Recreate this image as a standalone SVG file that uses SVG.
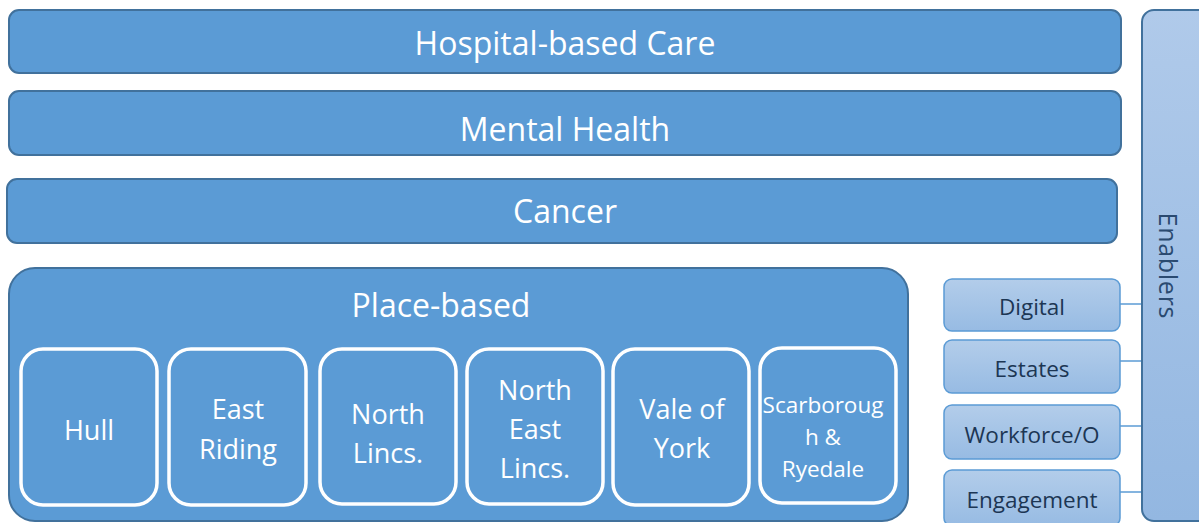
<svg xmlns="http://www.w3.org/2000/svg" width="1199" height="523" viewBox="0 0 1199 523">
  <defs>
    <linearGradient id="gSmall" x1="0" y1="0" x2="0" y2="1">
      <stop offset="0" stop-color="#b3cdea"/>
      <stop offset="1" stop-color="#97bbe3"/>
    </linearGradient>
    <linearGradient id="gEnab" x1="0" y1="0" x2="0" y2="1">
      <stop offset="0" stop-color="#b0caea"/>
      <stop offset="1" stop-color="#93b7e1"/>
    </linearGradient>
  </defs>
  <style>
    .bar { fill: #5b9bd5; stroke: #41719c; stroke-width: 2; }
    .inner { fill: #5b9bd5; stroke: #ffffff; stroke-width: 3.5; }
    .small { fill: url(#gSmall); stroke: #5b9bd5; stroke-width: 1.5; }
    .enab { fill: url(#gEnab); stroke: #41719c; stroke-width: 2; }
    .conn { stroke: #5b9bd5; stroke-width: 1.5; fill: none; }
    text { font-family: "Open Sans", "Liberation Sans", sans-serif; text-anchor: middle; }
    .big { fill: #ffffff; font-size: 32px; }
    .mid { fill: #ffffff; font-size: 27px; }
    .sm { fill: #ffffff; font-size: 22.5px; }
    .dark { fill: #1c3654; font-size: 22.5px; }
    .vert { fill: #2a4a70; font-size: 25px; }
  </style>

  <g id="connectors">
    <line class="conn" x1="1120" y1="304" x2="1142" y2="304"/>
    <line class="conn" x1="1120" y1="361" x2="1142" y2="361"/>
    <line class="conn" x1="1120" y1="426" x2="1142" y2="426"/>
    <line class="conn" x1="1120" y1="492" x2="1142" y2="492"/>
  </g>

  <g id="enablers">
    <rect class="enab" x="1142" y="10" width="80" height="511" rx="12"/>
    <text class="vert" transform="translate(1159,265.5) rotate(90)" textLength="106">Enablers</text>
  </g>

  <g id="hospital">
    <rect class="bar" x="9" y="10" width="1112" height="63" rx="10"/>
    <text class="big" x="565" y="55">Hospital-based Care</text>
  </g>
  <g id="mental-health">
    <rect class="bar" x="9" y="91" width="1112" height="64" rx="10"/>
    <text class="big" x="565" y="141">Mental Health</text>
  </g>
  <g id="cancer">
    <rect class="bar" x="7" y="179" width="1110" height="64" rx="10"/>
    <text class="big" x="565" y="223">Cancer</text>
  </g>

  <g id="place-based">
    <rect class="bar" x="9" y="268" width="899" height="253" rx="26"/>
    <text class="big" x="441" y="317">Place-based</text>
  </g>

  <g id="hull">
    <rect class="inner" x="21" y="349" width="136" height="156" rx="22"/>
    <text class="mid" x="89" y="440">Hull</text>
  </g>
  <g id="east-riding">
    <rect class="inner" x="169" y="349" width="137" height="156" rx="22"/>
    <text class="mid" x="238" y="419">East</text>
    <text class="mid" x="238" y="459">Riding</text>
  </g>
  <g id="north-lincs">
    <rect class="inner" x="320" y="349" width="136" height="155" rx="22"/>
    <text class="mid" x="388" y="424">North</text>
    <text class="mid" x="388" y="463">Lincs.</text>
  </g>
  <g id="north-east-lincs">
    <rect class="inner" x="467" y="349" width="136" height="155" rx="22"/>
    <text class="mid" x="535" y="400">North</text>
    <text class="mid" x="535" y="439">East</text>
    <text class="mid" x="535" y="478">Lincs.</text>
  </g>
  <g id="vale-of-york">
    <rect class="inner" x="613" y="349" width="136" height="156" rx="22"/>
    <text class="mid" x="682" y="419">Vale of</text>
    <text class="mid" x="682" y="458">York</text>
  </g>
  <g id="scarborough">
    <rect class="inner" x="760" y="348" width="136" height="155" rx="22"/>
    <text class="sm" x="823" y="413">Scarboroug</text>
    <text class="sm" x="823" y="445">h &amp;</text>
    <text class="sm" x="823" y="477">Ryedale</text>
  </g>

  <g id="digital">
    <rect class="small" x="944" y="279" width="176" height="52" rx="8"/>
    <text class="dark" x="1032" y="315">Digital</text>
  </g>
  <g id="estates">
    <rect class="small" x="944" y="340" width="176" height="53" rx="8"/>
    <text class="dark" x="1032" y="377">Estates</text>
  </g>
  <g id="workforce">
    <rect class="small" x="944" y="405" width="176" height="54" rx="8"/>
    <text class="dark" x="1032" y="443">Workforce/O</text>
  </g>
  <g id="engagement">
    <rect class="small" x="944" y="470" width="176" height="56" rx="8"/>
    <text class="dark" x="1032" y="508">Engagement</text>
  </g>
</svg>
